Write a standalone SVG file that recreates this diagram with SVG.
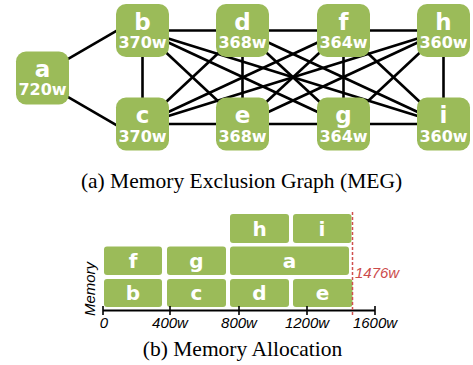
<svg xmlns="http://www.w3.org/2000/svg" width="473" height="365" viewBox="0 0 473 365">
<style>
.node{fill:#9bbb59}
.lbl{font-family:"DejaVu Sans",sans-serif;font-weight:bold;fill:#fff;text-anchor:middle}
.big{font-size:23px}
.num{font-size:16px}
.blk{font-family:"DejaVu Sans",sans-serif;font-weight:bold;fill:#fff;text-anchor:middle;font-size:20px}
.edge{stroke:#000;stroke-width:2.6;fill:none}
.ax{font-family:"Liberation Sans",Arial,sans-serif;font-style:italic;font-size:15px;fill:#000;text-anchor:middle}
.cap{font-family:"Liberation Serif","Times New Roman",serif;font-size:21.5px;fill:#000;text-anchor:middle}
</style>
<rect width="473" height="365" fill="#fff"/>
<g id="connectors">
<line class="edge" x1="60" y1="63.7" x2="122" y2="27.6"/>
<line class="edge" x1="60" y1="92.4" x2="122" y2="128.4"/>
<line class="edge" x1="142.5" y1="30.5" x2="443.5" y2="30.5"/>
<line class="edge" x1="142.5" y1="124" x2="443.5" y2="124"/>
<line class="edge" x1="142.5" y1="30.5" x2="142.5" y2="124"/>
<line class="edge" x1="242.5" y1="30.5" x2="242.5" y2="124"/>
<line class="edge" x1="343.5" y1="30.5" x2="343.5" y2="124"/>
<line class="edge" x1="443.5" y1="30.5" x2="443.5" y2="124"/>
<line class="edge" x1="142.5" y1="30.5" x2="242.5" y2="124"/>
<line class="edge" x1="142.5" y1="30.5" x2="343.5" y2="124"/>
<line class="edge" x1="142.5" y1="30.5" x2="443.5" y2="124"/>
<line class="edge" x1="142.5" y1="124" x2="242.5" y2="30.5"/>
<line class="edge" x1="142.5" y1="124" x2="343.5" y2="30.5"/>
<line class="edge" x1="142.5" y1="124" x2="443.5" y2="30.5"/>
<line class="edge" x1="242.5" y1="30.5" x2="343.5" y2="124"/>
<line class="edge" x1="242.5" y1="30.5" x2="443.5" y2="124"/>
<line class="edge" x1="242.5" y1="124" x2="343.5" y2="30.5"/>
<line class="edge" x1="242.5" y1="124" x2="443.5" y2="30.5"/>
<line class="edge" x1="343.5" y1="30.5" x2="443.5" y2="124"/>
<line class="edge" x1="343.5" y1="124" x2="443.5" y2="30.5"/>
</g>
<g id="node-a"><rect class="node" x="16" y="51.5" width="53" height="53" rx="10"/><text class="lbl big" x="42.5" y="77">a</text><text class="lbl num" x="42.5" y="95">720w</text></g>
<g id="node-b"><rect class="node" x="116" y="4" width="53" height="53" rx="10"/><text class="lbl big" x="142.5" y="29.5">b</text><text class="lbl num" x="142.5" y="48">370w</text></g>
<g id="node-c"><rect class="node" x="116" y="97.5" width="53" height="53" rx="10"/><text class="lbl big" x="142.5" y="123">c</text><text class="lbl num" x="142.5" y="142">370w</text></g>
<g id="node-d"><rect class="node" x="216" y="4" width="53" height="53" rx="10"/><text class="lbl big" x="242.5" y="29.5">d</text><text class="lbl num" x="242.5" y="48">368w</text></g>
<g id="node-e"><rect class="node" x="216" y="97.5" width="53" height="53" rx="10"/><text class="lbl big" x="242.5" y="123">e</text><text class="lbl num" x="242.5" y="142">368w</text></g>
<g id="node-f"><rect class="node" x="317" y="4" width="53" height="53" rx="10"/><text class="lbl big" x="343.5" y="29.5">f</text><text class="lbl num" x="343.5" y="48">364w</text></g>
<g id="node-g"><rect class="node" x="317" y="97.5" width="53" height="53" rx="10"/><text class="lbl big" x="343.5" y="123">g</text><text class="lbl num" x="343.5" y="142">364w</text></g>
<g id="node-h"><rect class="node" x="417" y="4" width="53" height="53" rx="10"/><text class="lbl big" x="443.5" y="29.5">h</text><text class="lbl num" x="443.5" y="48">360w</text></g>
<g id="node-i"><rect class="node" x="417" y="97.5" width="53" height="53" rx="10"/><text class="lbl big" x="443.5" y="123">i</text><text class="lbl num" x="443.5" y="142">360w</text></g>
<text class="cap" x="241.5" y="188">(a) Memory Exclusion Graph (MEG)</text>
<g id="allocation">
<g id="blk-b"><rect class="node" x="104" y="279" width="58" height="28" rx="3"/><text class="blk" x="133" y="300">b</text></g>
<g id="blk-c"><rect class="node" x="167" y="279" width="59" height="28" rx="3"/><text class="blk" x="196.5" y="300">c</text></g>
<g id="blk-d"><rect class="node" x="230" y="279" width="59" height="28" rx="3"/><text class="blk" x="259.5" y="300">d</text></g>
<g id="blk-e"><rect class="node" x="293" y="279" width="59.5" height="28" rx="3"/><text class="blk" x="322.5" y="300">e</text></g>
<g id="blk-f"><rect class="node" x="104" y="246.5" width="58" height="28.5" rx="3"/><text class="blk" x="133" y="268">f</text></g>
<g id="blk-g"><rect class="node" x="167" y="246.5" width="59" height="28.5" rx="3"/><text class="blk" x="196.5" y="268">g</text></g>
<g id="blk-a"><rect class="node" x="230" y="246.5" width="119" height="28.5" rx="3"/><text class="blk" x="289.5" y="268">a</text></g>
<g id="blk-h"><rect class="node" x="230" y="214" width="59" height="29" rx="3"/><text class="blk" x="259.5" y="236">h</text></g>
<g id="blk-i"><rect class="node" x="293" y="214" width="58.5" height="29" rx="3"/><text class="blk" x="322" y="236">i</text></g>
<line x1="103" y1="310.5" x2="375" y2="310.5" stroke="#000" stroke-width="2"/>
<g stroke="#000" stroke-width="1.6">
<line x1="103" y1="306" x2="103" y2="315"/>
<line x1="170" y1="306" x2="170" y2="315"/>
<line x1="239" y1="306" x2="239" y2="315"/>
<line x1="307" y1="306" x2="307" y2="315"/>
<line x1="375" y1="306" x2="375" y2="315"/>
</g>
<text class="ax" x="104" y="328">0</text>
<text class="ax" x="170" y="328">400w</text>
<text class="ax" x="239" y="328">800w</text>
<text class="ax" x="307" y="328">1200w</text>
<text class="ax" x="375" y="328">1600w</text>
<line x1="352.5" y1="212" x2="352.5" y2="316" stroke="#d0504f" stroke-width="1.5" stroke-dasharray="3,2"/>
<text x="355" y="278" style="font-family:'Liberation Sans',Arial,sans-serif;font-style:italic;font-size:15px;fill:#cc4b4b">1476w</text>
<text class="ax" x="95" y="289" transform="rotate(-90 95 289)">Memory</text>
</g>
<text class="cap" x="242.5" y="356">(b) Memory Allocation</text>
</svg>
